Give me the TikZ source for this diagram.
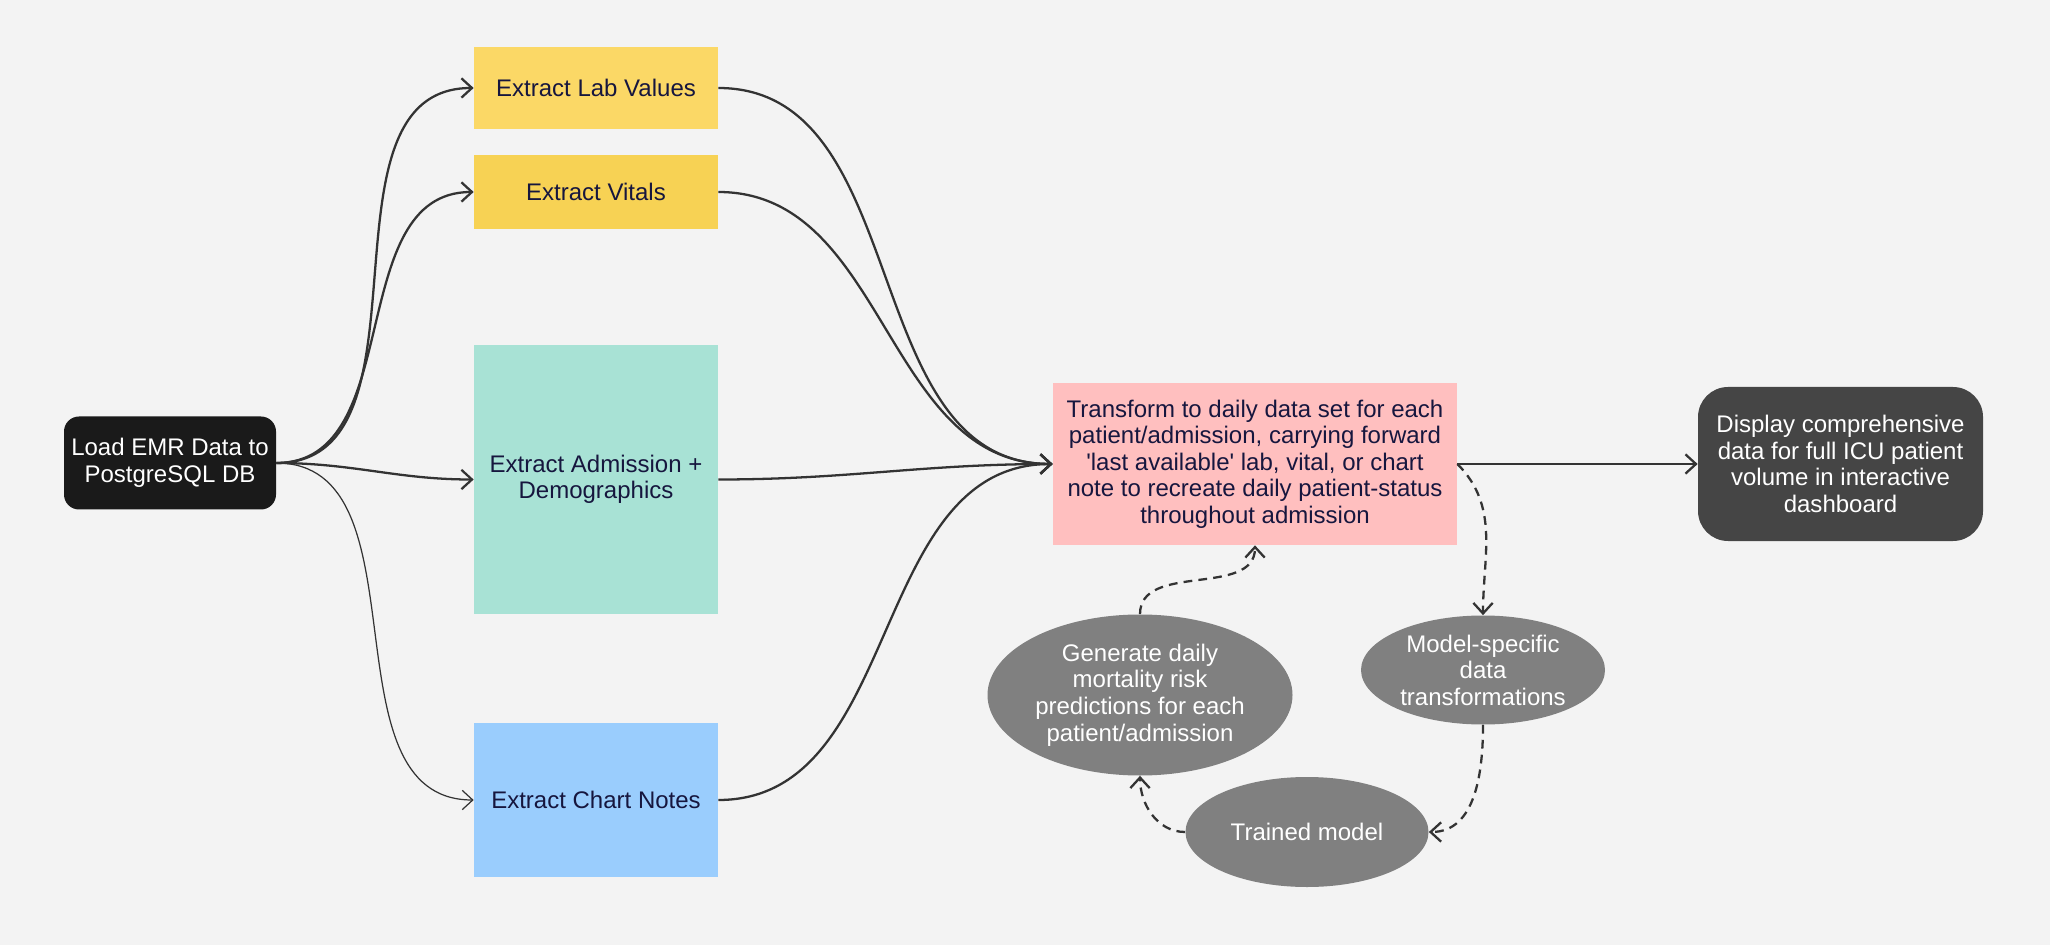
\documentclass[tikz,border=0pt]{standalone}
\usepackage{fontspec}
\setmainfont{Liberation Sans}
\usetikzlibrary{arrows.meta,shapes.geometric}
\definecolor{bgcol}{HTML}{F3F3F3}
\definecolor{labcol}{HTML}{FBD866}
\definecolor{vitcol}{HTML}{F7D254}
\definecolor{admcol}{HTML}{A8E2D5}
\definecolor{chartcol}{HTML}{9ACDFD}
\definecolor{transcol}{HTML}{FFBFBF}
\definecolor{loadcol}{HTML}{1A1A1A}
\definecolor{dispcol}{HTML}{454545}
\definecolor{ovalcol}{HTML}{808080}
\definecolor{navy}{HTML}{16163E}
\definecolor{linecol}{HTML}{333333}

\begin{document}
\begin{tikzpicture}[x=2cm,y=2cm,>={Straight Barb[length=6pt,width=11pt]},
  txt/.style={align=center, inner sep=0pt, font=\fontsize{13.66}{15.1}\selectfont},
  box/.style={txt, rectangle, minimum width=4.88cm, text=navy},
  darkbox/.style={txt, rectangle, text=white},
  oval/.style={txt, ellipse, fill=ovalcol, text=white},
  link/.style={draw=linecol, line width=1.3pt},
  flow/.style={link, dash pattern=on 5pt off 3.5pt}]
%%%BACKGROUND
\fill [bgcol] (0,0) rectangle (20.5,9.45);
%%%NODES
\node [darkbox, fill=loadcol, rounded corners=0.3cm, minimum width=4.24cm, minimum height=1.86cm] (load) at (1.70,4.82) {Load EMR Data to\\PostgreSQL DB};
\node [box, fill=labcol, minimum height=1.64cm] (lab) at (5.96,8.57) {Extract Lab Values};
\node [box, fill=vitcol, minimum height=1.48cm] (vit) at (5.96,7.53) {Extract Vitals};
\node [box, fill=admcol, minimum height=5.38cm] (adm) at (5.96,4.655) {Extract Admission +\\Demographics};
\node [box, fill=chartcol, minimum height=3.08cm] (chart) at (5.96,1.45) {Extract Chart Notes};
\node [box, fill=transcol, minimum width=8.08cm, minimum height=3.24cm] (trans) at (12.55,4.81) {Transform to daily data set for each\\patient/admission, carrying forward\\\textquotesingle last available\textquotesingle{} lab, vital, or chart\\note to recreate daily patient-status\\throughout admission};
\node [darkbox, fill=dispcol, rounded corners=0.6cm, minimum width=5.7cm, minimum height=3.08cm] (disp) at (18.405,4.81) {Display comprehensive\\data for full ICU patient\\volume in interactive\\dashboard};
\node [oval, minimum width=6.1cm, minimum height=3.22cm] (gen) at (11.40,2.50) {Generate daily\\mortality risk\\predictions for each\\patient/admission};
\node [oval, minimum width=4.88cm, minimum height=2.18cm] (model) at (14.83,2.75) {Model-specific\\data\\transformations};
\node [oval, minimum width=4.86cm, minimum height=2.2cm] (trained) at (13.07,1.13) {Trained model};
%%%EXTRACTION
\draw [link,->] (load.east) to[out=0,in=180] (lab.west);
\draw [link,->] (load.east) to[out=0,in=180] (vit.west);
\draw [link,->] (load.east) to[out=0,in=180] (adm.west);
\draw [link,->,line width=0.7pt] (load.east) to[out=0,in=180] (chart.west);
%%%MERGE
\draw [link,->] (lab.east) to[out=0,in=180] (trans.west);
\draw [link,->] (vit.east) to[out=0,in=180] (trans.west);
\draw [link,->] (adm.east) to[out=0,in=180] (trans.west);
\draw [link,->] (chart.east) to[out=0,in=180] (trans.west);
\draw [link,->] (trans.east) -- (disp.west);
%%%MODEL LOOP
\draw [flow,->] (trans.east) to[out=-45,in=90] (model.north);
\draw [flow,->] (model.south) to[out=-90,in=0] (trained.east);
\draw [flow,->] (trained.west) to[out=180,in=-90] (gen.south);
\draw [flow,->] (gen.north) to[out=90,in=-90] (trans.south);
\end{tikzpicture}
\end{document}
